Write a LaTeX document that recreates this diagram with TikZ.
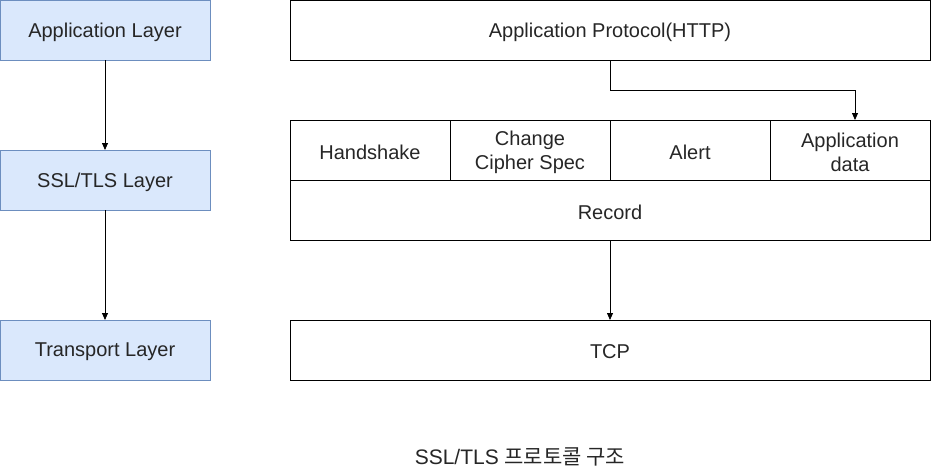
\documentclass[tikz,border=0pt]{standalone}
\usepackage{fontspec}
\setmainfont{Liberation Sans}
\newfontfamily\cjk{Noto Sans CJK KR}
\usetikzlibrary{arrows.meta}
\definecolor{bfill}{HTML}{DAE8FC}
\definecolor{bdraw}{HTML}{6C8EBF}
\begin{document}
\begin{tikzpicture}[x=1pt,y=-1pt,
  layer/.style={draw=bdraw,fill=bfill,line width=0.8pt},
  plain/.style={draw=black,line width=0.8pt},
  lbl/.style={font=\fontsize{20}{24}\selectfont,align=center,text=black!85,yshift=-2pt},
  conn/.style={draw=black,line width=0.8pt,-{Triangle[length=7pt,width=6pt]}}]
\useasboundingbox (0,0) rectangle (932,472);
% left layers
\path[layer] (0.5,0.5) rectangle (210,60);
\node[lbl] (al) at (105,30) {Application Layer};
\path[layer] (0.5,150) rectangle (210,210);
\node[lbl] (sl) at (105,180) {SSL/TLS Layer};
\path[layer] (0.5,320) rectangle (210,380);
\node[lbl] (tl) at (105,350) {Transport Layer};
\coordinate (alb) at (105,60); \coordinate (slt) at (105,150);
\coordinate (slb) at (105,210); \coordinate (tlt) at (105,320);
\draw[conn] (alb) -- (slt);
\draw[conn] (slb) -- (tlt);
% right stack
\path[plain] (290,0.5) rectangle (930,60);
\node[lbl] (http) at (610,30) {Application Protocol(HTTP)};
\path[plain] (290,120) rectangle (450,180);
\node[lbl] (hs) at (370,150) {Handshake};
\path[plain] (450,120) rectangle (610,180);
\node[lbl] (ccs) at (530,150) {Change\\Cipher Spec};
\path[plain] (610,120) rectangle (770,180);
\node[lbl] (alert) at (690,150) {Alert};
\path[plain] (770,120) rectangle (930,180);
\node[lbl] (ad) at (850,150) {Application\\data};
\path[plain] (290,180) rectangle (930,240);
\node[lbl] (rec) at (610,210) {Record};
\path[plain] (290,320) rectangle (930,380);
\node[lbl] (tcp) at (610,350) {TCP};
\coordinate (httpb) at (610,60); \coordinate (adt) at (855,120);
\coordinate (recb) at (610,240); \coordinate (tcpt) at (610,320);
\draw[conn] (httpb) |- (855,90) -- (adt);
\draw[conn] (recb) -- (tcpt);
\node[lbl,font=\fontsize{21}{24}\selectfont] (cap) at (520,455) {SSL/TLS {\cjk 프로토콜 구조}};
\end{tikzpicture}
\end{document}
